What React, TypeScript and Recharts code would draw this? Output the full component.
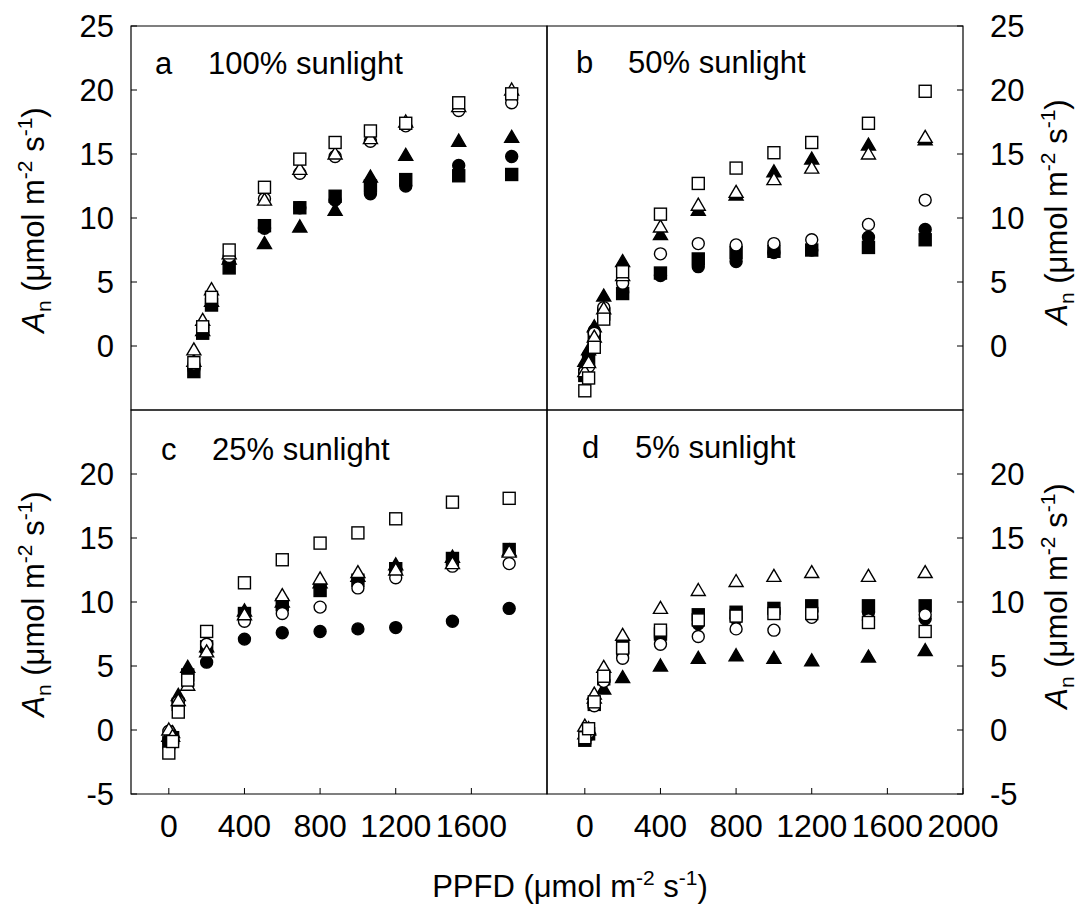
import React from 'react';
import { ScatterChart, Scatter, XAxis, YAxis, ReferenceArea } from 'recharts';

const FONT = "'Liberation Sans', Arial, sans-serif";

// PPFD levels (µmol m-2 s-1)
const ppfdA = [0, 50, 100, 200, 400, 600, 800, 1000, 1200, 1500, 1800];
const ppfdBCD = [0, 20, 50, 100, 200, 400, 600, 800, 1000, 1200, 1500, 1800];

// a  100% sunlight
const aFilledCircle = [-1.8, 1.1, 3.3, 6.6, 9.2, 10.8, 11.4, 11.9, 12.5, 14.1, 14.8];
const aFilledSquare = [-2.0, 1.0, 3.2, 6.1, 9.4, 10.8, 11.7, 12.5, 13.0, 13.3, 13.4];
const aFilledTriangle = [-1.2, 1.2, 3.5, 6.8, 8.0, 9.3, 10.6, 13.2, 14.9, 16.0, 16.3];
const aOpenCircle = [-1.4, 1.5, 3.7, 7.0, 11.5, 13.5, 14.8, 16.0, 17.2, 18.4, 19.0];
const aOpenTriangle = [-0.3, 2.0, 4.4, 7.2, 11.4, 13.8, 15.0, 16.2, 17.5, 18.7, 20.0];
const aOpenSquare = [-1.3, 1.5, 3.8, 7.5, 12.4, 14.6, 15.9, 16.8, 17.4, 19.0, 19.7];

// b  50% sunlight
const bFilledCircle = [-1.9, -0.7, 1.2, 2.8, 4.2, 5.5, 6.2, 6.6, 7.3, 7.5, 8.5, 9.1];
const bFilledSquare = [-2.3, -1.1, 0.7, 2.5, 4.1, 5.7, 6.8, 7.3, 7.4, 7.5, 7.7, 8.3];
const bFilledTriangle = [-1.2, -0.3, 1.5, 3.9, 6.6, 8.7, 10.6, 11.8, 13.6, 14.6, 15.7, 16.1];
const bOpenCircle = [-2.0, -1.6, 1.0, 3.0, 4.9, 7.2, 8.0, 7.9, 8.0, 8.3, 9.5, 11.4];
const bOpenTriangle = [-2.0, -1.3, 0.7, 2.9, 5.5, 9.3, 11.0, 12.0, 13.0, 13.9, 15.0, 16.3];
const bOpenSquare = [-3.5, -2.5, -0.1, 2.1, 5.8, 10.3, 12.7, 13.9, 15.1, 15.9, 17.4, 19.9];

// c  25% sunlight
const cFilledCircle = [-1.0, -0.7, 2.2, 4.4, 5.3, 7.1, 7.6, 7.7, 7.9, 8.0, 8.5, 9.5];
const cFilledSquare = [-1.0, -0.6, 2.0, 4.3, 6.5, 9.1, 9.8, 10.9, 11.7, 12.6, 13.4, 14.1];
const cFilledTriangle = [-0.5, -0.2, 2.7, 4.9, 6.5, 9.3, 10.0, 11.5, 12.0, 12.9, 13.5, 14.0];
const cOpenCircle = [-0.1, -0.8, 2.2, 3.6, 6.7, 8.5, 9.1, 9.6, 11.1, 11.9, 12.8, 13.0];
const cOpenTriangle = [0.0, -0.5, 2.3, 3.5, 6.1, 9.0, 10.5, 11.8, 12.3, 12.5, 13.0, 13.9];
const cOpenSquare = [-1.8, -0.9, 1.4, 3.9, 7.7, 11.5, 13.3, 14.6, 15.4, 16.5, 17.8, 18.1];

// d  5% sunlight
const dFilledCircle = [-0.7, -0.4, 2.0, 3.9, 6.0, 7.2, 8.3, 8.7, 9.2, 9.3, 9.2, 8.7];
const dFilledSquare = [-0.8, -0.3, 2.0, 4.0, 6.5, 7.5, 9.0, 9.2, 9.5, 9.7, 9.7, 9.7];
const dFilledTriangle = [-0.3, 0.0, 2.5, 3.2, 4.1, 5.0, 5.6, 5.8, 5.6, 5.4, 5.7, 6.2];
const dOpenCircle = [-0.5, -0.2, 1.9, 3.8, 5.6, 6.7, 7.3, 7.9, 7.8, 8.8, 8.6, 9.0];
const dOpenTriangle = [0.3, 0.1, 2.8, 4.9, 7.4, 9.5, 10.9, 11.6, 12.0, 12.3, 12.0, 12.3];
const dOpenSquare = [-0.6, 0.1, 2.2, 4.2, 6.4, 7.8, 8.6, 8.9, 9.1, 9.1, 8.4, 7.7];

const xTicks = [0, 400, 800, 1200, 1600];
const xTicksLast = [0, 400, 800, 1200, 1600, 2000];
const yTicksUpper = [0, 5, 10, 15, 20, 25];
const yTicksLower = [-5, 0, 5, 10, 15, 20];

type Kind = 'circle' | 'square' | 'triangle';

const Marker = ({ cx, cy, kind, filled }: { cx: number; cy: number; kind: Kind; filled: boolean }) => {
  const fill = filled ? '#000' : '#fff';
  const common = { fill, stroke: '#000', strokeWidth: 1.4 };
  if (kind === 'circle') return <circle cx={cx} cy={cy} r={6} {...common} />;
  if (kind === 'square') return <rect x={cx - 6} y={cy - 6} width={12} height={12} {...common} />;
  return <polygon points={`${cx},${cy - 7} ${cx + 7},${cy + 5} ${cx - 7},${cy + 5}`} {...common} />;
};

// drawing order: filled first, open on top
const styles: { kind: Kind; filled: boolean }[] = [
  { kind: 'circle', filled: true },
  { kind: 'square', filled: true },
  { kind: 'triangle', filled: true },
  { kind: 'circle', filled: false },
  { kind: 'triangle', filled: false },
  { kind: 'square', filled: false },
];

const toPoints = (xs: number[], ys: number[]) => xs.map((x, i) => ({ x, y: ys[i] }));

interface PanelProps {
  left: number;
  top: number;
  width: number;
  height: number;
  margin: { top: number; right: number; bottom: number; left: number };
  ppfd: number[];
  values: number[][];
  xDomain: [number, number];
  xTickList: number[];
  showXLabels: boolean;
  xAxisHeight: number;
  yTickList: number[];
  side: 'left' | 'right';
}

const Panel = (p: PanelProps) => (
  <div style={{ position: 'absolute', left: p.left, top: p.top }}>
    <ScatterChart width={p.width} height={p.height} margin={p.margin}>
      <XAxis
        type="number"
        dataKey="x"
        domain={p.xDomain}
        ticks={p.xTickList}
        interval={0}
        allowDataOverflow
        height={p.xAxisHeight}
        axisLine={false}
        tickSize={-6}
        tickMargin={26}
        tickLine={{ stroke: '#000', strokeWidth: 1 }}
        tick={p.showXLabels ? { fill: '#000', fontSize: 32, fontFamily: FONT } : false}
      />
      <YAxis
        type="number"
        dataKey="y"
        domain={[-5, 25]}
        ticks={p.yTickList}
        interval={0}
        allowDataOverflow
        orientation={p.side}
        width={p.side === 'left' ? 131 : 116}
        axisLine={false}
        tickSize={-6}
        tickMargin={p.side === 'left' ? 23 : 33}
        tickLine={{ stroke: '#000', strokeWidth: 1 }}
        tick={{ fill: '#000', fontSize: 31, fontFamily: FONT }}
      />
      <ReferenceArea
        x1={p.xDomain[0]}
        x2={p.xDomain[1]}
        y1={-5}
        y2={25}
        fill="none"
        stroke="#000"
        strokeWidth={1.2}
        ifOverflow="visible"
      />
      {styles.map((s, i) => (
        <Scatter
          key={i}
          data={toPoints(p.ppfd, p.values[i])}
          isAnimationActive={false}
          shape={(props: any) => <Marker cx={props.cx} cy={props.cy} kind={s.kind} filled={s.filled} />}
        />
      ))}
    </ScatterChart>
  </div>
);

const YTitle = ({ x, y }: { x: number; y: number }) => (
  <text transform={`translate(${x},${y}) rotate(-90)`} textAnchor="middle" fontSize={31} fontFamily={FONT} fill="#000">
    <tspan fontStyle="italic">A</tspan>
    <tspan fontSize={21} dy={7}>n</tspan>
    <tspan dy={-7}> (μmol m</tspan>
    <tspan fontSize={21} dy={-12}>-2</tspan>
    <tspan dy={12}> s</tspan>
    <tspan fontSize={21} dy={-12}>-1</tspan>
    <tspan dy={12}>)</tspan>
  </text>
);

const PanelLabel = ({ x, x2, y, letter, text }: { x: number; x2: number; y: number; letter: string; text: string }) => (
  <g fontSize={31} fontFamily={FONT} fill="#000">
    <text x={x} y={y}>{letter}</text>
    <text x={x2} y={y}>{text}</text>
  </g>
);

export default function App() {
  return (
    <div style={{ position: 'absolute', left: 0, top: 0, width: 1079, height: 912, background: '#fff', overflow: 'hidden' }}>
      <Panel
        left={0} top={0} width={549} height={412}
        margin={{ top: 26, right: 2, bottom: 2, left: 0 }}
        ppfd={ppfdA}
        values={[aFilledCircle, aFilledSquare, aFilledTriangle, aOpenCircle, aOpenTriangle, aOpenSquare]}
        xDomain={[-356, 2000]} xTickList={xTicks} showXLabels={false} xAxisHeight={0}
        yTickList={yTicksUpper} side="left"
      />
      <Panel
        left={545} top={0} width={534} height={412}
        margin={{ top: 26, right: 0, bottom: 2, left: 2 }}
        ppfd={ppfdBCD}
        values={[bFilledCircle, bFilledSquare, bFilledTriangle, bOpenCircle, bOpenTriangle, bOpenSquare]}
        xDomain={[-200, 2000]} xTickList={xTicks} showXLabels={false} xAxisHeight={0}
        yTickList={yTicksUpper} side="right"
      />
      <Panel
        left={0} top={408} width={549} height={504}
        margin={{ top: 2, right: 2, bottom: 0, left: 0 }}
        ppfd={ppfdBCD}
        values={[cFilledCircle, cFilledSquare, cFilledTriangle, cOpenCircle, cOpenTriangle, cOpenSquare]}
        xDomain={[-200, 2000]} xTickList={xTicks} showXLabels={true} xAxisHeight={118}
        yTickList={yTicksLower} side="left"
      />
      <Panel
        left={545} top={408} width={534} height={504}
        margin={{ top: 2, right: 0, bottom: 0, left: 2 }}
        ppfd={ppfdBCD}
        values={[dFilledCircle, dFilledSquare, dFilledTriangle, dOpenCircle, dOpenTriangle, dOpenSquare]}
        xDomain={[-200, 2000]} xTickList={xTicksLast} showXLabels={true} xAxisHeight={118}
        yTickList={yTicksLower} side="right"
      />
      <svg width={1079} height={912} style={{ position: 'absolute', left: 0, top: 0, pointerEvents: 'none' }}>
        <PanelLabel x={155} x2={208} y={74} letter="a" text="100% sunlight" />
        <PanelLabel x={576} x2={628} y={73} letter="b" text="50% sunlight" />
        <PanelLabel x={161} x2={212} y={460} letter="c" text="25% sunlight" />
        <PanelLabel x={582} x2={635} y={458} letter="d" text="5% sunlight" />
        <YTitle x={44} y={220} />
        <YTitle x={44} y={604} />
        <YTitle x={1067} y={212} />
        <YTitle x={1067} y={596} />
        <text x={570} y={897} textAnchor="middle" fontSize={31} fontFamily={FONT} fill="#000">
          PPFD (μmol m<tspan fontSize={21} dy={-12}>-2</tspan>
          <tspan dy={12}> s</tspan>
          <tspan fontSize={21} dy={-12}>-1</tspan>
          <tspan dy={12}>)</tspan>
        </text>
      </svg>
    </div>
  );
}
